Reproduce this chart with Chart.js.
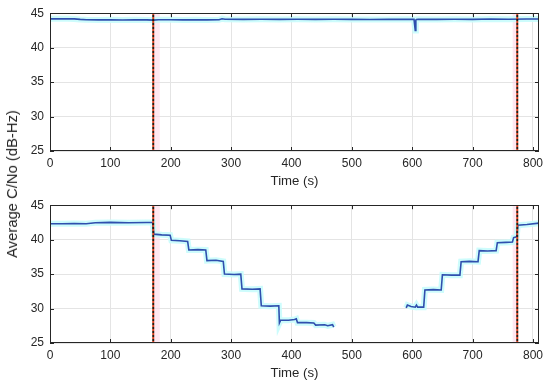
<!DOCTYPE html>
<html>
<head>
<meta charset="utf-8">
<script src="https://cdn.jsdelivr.net/npm/chart.js@4.4.1/dist/chart.umd.min.js"></script>
<style>
  html, body { margin: 0; padding: 0; background: #ffffff; }
  #wrap { position: relative; width: 550px; height: 388px; overflow: hidden; background: #fff; }
  #c1 { position: absolute; left: 0; top: 0; }
  #c2 { position: absolute; left: 0; top: 192px; }
  #ytitle {
    position: absolute; left: 12px; top: 184px;
    transform: translate(-50%, -50%) rotate(-90deg);
    font-family: "Liberation Sans", Arial, sans-serif; font-size: 14.8px; color: #262626;
    white-space: nowrap;
  }
</style>
</head>
<body>
<div id="wrap">
  <canvas id="c1" width="550" height="192"></canvas>
  <canvas id="c2" width="550" height="192"></canvas>
  <div id="ytitle">Average C/No (dB-Hz)</div>
</div>
<script>
// ---- data ----
const xTitle = "Time (s)";
const yTitle = "Average C/No (dB-Hz)";
const xTicks = [0, 100, 200, 300, 400, 500, 600, 700, 800];
const yTicks = [25, 30, 35, 40, 45];

// Top panel: average C/No (dB-Hz) vs time (s)
const topTime = [0, 10, 20, 30, 40, 50, 60, 80, 100, 120, 140, 160, 171, 180, 200, 220, 240, 260, 280, 285, 290, 320, 350, 380, 410, 440, 470, 500, 530, 560, 590, 603, 605, 606, 607, 610, 640, 670, 700, 730, 760, 790, 810];
const topCn0  = [44.18, 44.2, 44.18, 44.2, 44.17, 44.1, 44.05, 44.03, 44.05, 44.02, 44.05, 44.03, 44.0, 44.05, 44.05, 44.03, 44.05, 44.03, 44.05, 44.2, 44.12, 44.1, 44.12, 44.1, 44.12, 44.1, 44.12, 44.1, 44.08, 44.1, 44.12, 44.1, 42.5, 44.0, 44.1, 44.12, 44.1, 44.12, 44.1, 44.15, 44.12, 44.15, 44.15];

// Bottom panel: average C/No with stepped attenuation (null = no data)
const botTime = [0, 20, 40, 60, 75, 100, 130, 160, 170, 172, 185, 199, 201, 215, 228, 230, 245, 258, 260, 275, 287, 289, 305, 316, 318, 335, 348, 350, 365, 379, 380, 382, 395, 405, 408, 410, 425, 437, 440, 455, 460, 468, 470, 520, 590, 592, 598, 605, 607, 609, 619, 621, 635, 648, 650, 665, 679, 681, 695, 709, 711, 725, 739, 741, 755, 766, 768, 773, 775, 790, 810];
const botCn0  = [42.3, 42.3, 42.35, 42.3, 42.45, 42.5, 42.45, 42.5, 42.5, 40.8, 40.7, 40.65, 39.9, 39.85, 39.75, 38.5, 38.55, 38.5, 36.95, 37.0, 36.85, 35.0, 34.95, 35.0, 32.85, 32.8, 32.85, 30.4, 30.35, 30.4, 27.9, 28.3, 28.3, 28.4, 28.5, 27.95, 27.95, 27.9, 27.6, 27.65, 27.5, 27.65, 27.3, null, 30.1, 30.5, 30.3, 30.2, 30.5, 30.2, 30.2, 32.7, 32.75, 32.7, 34.9, 34.85, 34.85, 36.8, 36.85, 36.8, 38.4, 38.35, 38.4, 39.55, 39.6, 39.65, 40.3, 40.4, 42.1, 42.2, 42.4];

// Event markers (s) and shaded intervals (s)
const eventTimes = [171, 774];
const bandIntervals = [[171, 182], [766, 775]];
const xRange = [0, 810];
const yRange = [25, 45];

// ---- helpers ----
const FONT = "'Liberation Sans', Arial, Helvetica, sans-serif";
const AXIS = '#262626';
const GRID = '#e4e4e4';
const LINE = '#2f4fae';
const HALO = 'rgba(200, 252, 252, 0.9)';

function pts(xs, ys) { return xs.map((x, i) => ({ x: x, y: ys[i] })); }

const boxPlugin = {
  id: 'box',
  afterDatasetsDraw(chart) {
    const { ctx, chartArea: a, scales: { x, y } } = chart;
    ctx.save();
    ctx.strokeStyle = AXIS;
    ctx.lineWidth = 1;
    ctx.strokeRect(Math.round(a.left) + 0.5, Math.round(a.top) + 0.5,
                   Math.round(a.right - a.left) - 1, Math.round(a.bottom - a.top) - 1);
    ctx.beginPath();
    x.ticks.forEach(t => {
      const px = Math.round(x.getPixelForValue(t.value)) + 0.5;
      ctx.moveTo(px, a.bottom); ctx.lineTo(px, a.bottom - 4);
      ctx.moveTo(px, a.top); ctx.lineTo(px, a.top + 4);
    });
    y.ticks.forEach(t => {
      const py = Math.round(y.getPixelForValue(t.value)) + 0.5;
      ctx.moveTo(a.left, py); ctx.lineTo(a.left + 4, py);
      ctx.moveTo(a.right, py); ctx.lineTo(a.right - 4, py);
    });
    ctx.stroke();
    ctx.restore();
  }
};

function makeDatasets(times, vals) {
  const ds = [];
  bandIntervals.forEach(b => {
    ds.push({ data: [{ x: b[0], y: yRange[1] }, { x: b[1], y: yRange[1] }],
      borderWidth: 0, pointRadius: 0, fill: 'start', backgroundColor: 'rgba(255, 210, 228, 0.5)', order: 10 });
  });
  ds.push({ data: pts(times, vals), borderColor: HALO, borderWidth: 6, pointRadius: 0, spanGaps: false, order: 5 });
  ds.push({ data: pts(times, vals), borderColor: LINE, borderWidth: 1.6, pointRadius: 0, spanGaps: false, order: 4 });
  eventTimes.forEach(t => {
    const line = [{ x: t, y: yRange[0] }, { x: t, y: yRange[1] }];
    ds.push({ data: line, borderColor: '#d8401e', borderWidth: 2, pointRadius: 0, borderDash: [2, 2], order: 2 });
    ds.push({ data: line, borderColor: '#2a1a10', borderWidth: 2, pointRadius: 0, borderDash: [2, 2], borderDashOffset: 2, order: 1 });
  });
  return ds;
}

function makeChart(id, times, vals) {
  return new Chart(document.getElementById(id), {
    type: 'line',
    data: { datasets: makeDatasets(times, vals) },
    options: {
      responsive: false, animation: false, devicePixelRatio: 1,
      layout: { padding: { top: 13, right: 11, left: 0, bottom: 0 } },
      plugins: { legend: { display: false }, tooltip: { enabled: false } },
      elements: { line: { tension: 0 } },
      scales: {
        x: {
          type: 'linear', min: xRange[0], max: xRange[1],
          afterFit: s => { s.height = 41; },
          afterBuildTicks: s => { s.ticks = xTicks.map(v => ({ value: v })); },
          grid: { color: GRID, drawTicks: false },
          border: { display: false },
          ticks: { padding: 5, color: AXIS, font: { family: FONT, size: 12 }, maxRotation: 0, autoSkip: false },
          title: { display: true, text: xTitle, color: AXIS, font: { family: FONT, size: 13.2 }, padding: { top: 0, bottom: 3 } }
        },
        y: {
          type: 'linear', min: yRange[0], max: yRange[1],
          afterFit: s => { s.width = 50; },
          afterBuildTicks: s => { s.ticks = yTicks.map(v => ({ value: v })); },
          grid: { color: GRID, drawTicks: false },
          border: { display: false },
          ticks: { padding: 6, color: AXIS, font: { family: FONT, size: 12 } }
        }
      }
    },
    plugins: [boxPlugin]
  });
}

makeChart('c1', topTime, topCn0);
makeChart('c2', botTime, botCn0);
</script>
</body>
</html>
